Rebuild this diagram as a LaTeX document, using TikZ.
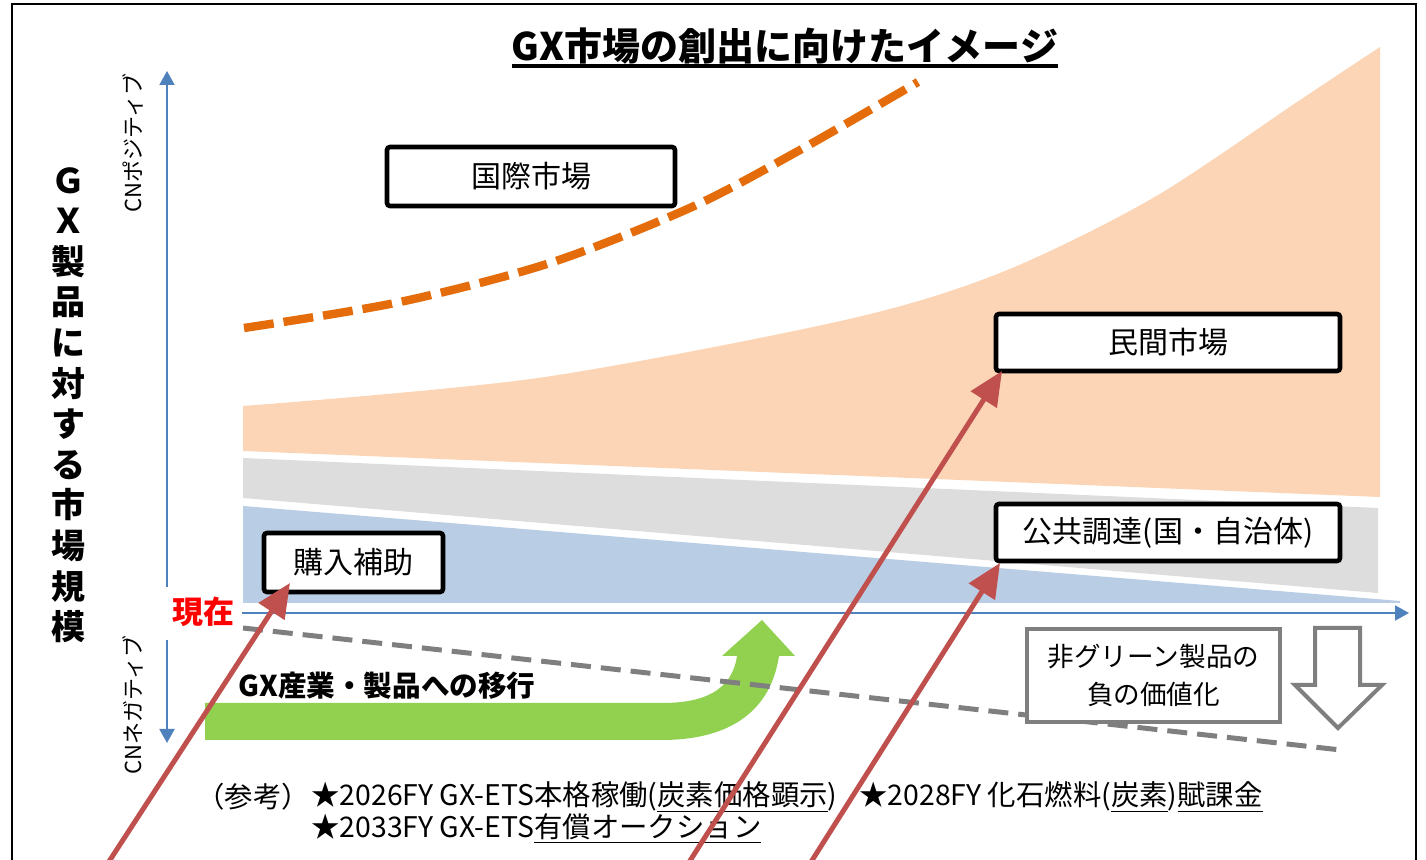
\documentclass[tikz,border=0pt]{standalone}
\usepackage{fontspec}
\setmainfont{Noto Sans CJK JP}
\usetikzlibrary{arrows.meta,calc}
\definecolor{axisblue}{HTML}{4F81BD}
\definecolor{bandblue}{HTML}{B9CDE5}
\definecolor{bandgray}{HTML}{DDDDDD}
\definecolor{bandorange}{HTML}{FBD5B5}
\definecolor{dashorange}{HTML}{E46C0A}
\definecolor{arrowred}{HTML}{C0504D}
\definecolor{greenarrow}{HTML}{92D050}
\definecolor{midgray}{HTML}{7F7F7F}
\tikzset{
  mbox/.style={draw=black, line width=2.3pt, fill=white, rounded corners=1.5pt, inner sep=0pt, font=\fontsize{15}{18}\selectfont},
  graybox/.style={draw=midgray, line width=2pt, fill=white, inner sep=0pt, align=center, font=\fontsize{13.3}{19}\selectfont},
  axisline/.style={draw=axisblue, line width=1pt, -{Triangle[width=7.5pt,length=7pt]}},
  redarrow/.style={draw=arrowred, line width=2.5pt, -{Triangle[width=15pt,length=17pt]}},
  orangedash/.style={draw=dashorange, line width=4.2pt, dash pattern=on 15pt off 5pt},
  graydash/.style={draw=midgray, line width=2.5pt, dash pattern=on 10pt off 5pt},
  reftext/.style={anchor=west, inner sep=0pt, font=\fontsize{14.2}{17}\selectfont},
}
\begin{document}
\begin{tikzpicture}[x=0.5pt,y=-0.5pt]
\useasboundingbox (0,0) rectangle (1426,860);
\clip (0,0) rectangle (1426,860);
\fill[white] (0,0) rectangle (1426,860);

% frame
\draw[line width=1pt] (12,900) -- (12,4) -- (1416,4) -- (1416,900);

% bands
\fill[bandorange] plot[smooth] coordinates {(243,406) (538,378) (845,320) (1000,273) (1153,198) (1300,100) (1380,47)} -- (1380,497) -- (243,451) -- cycle;
\fill[bandgray] (243,458) -- (1378,508) -- (1378,593) -- (243,498) -- cycle;
\fill[bandblue] (243,506) -- (1400,601) -- (1400,603) -- (243,603) -- cycle;

% orange dashed curve
\draw[orangedash] plot[smooth] coordinates {(244,328) (400,302) (550,263) (692,207) (800,150) (918,82)};

% axes
\coordinate (xs) at (242,613);
\coordinate (xe) at (1409,613);
\coordinate (ys) at (167,587);
\coordinate (ye) at (167,71);
\coordinate (ns) at (167,640);
\coordinate (ne) at (167,743);
\draw[axisline] (xs) -- (xe);
\draw[axisline] (ys) -- (ye);
\draw[axisline] (ns) -- (ne);

% green transition arrow
\fill[greenarrow] (205,703) -- (662,703) .. controls (705,703) and (732,690) .. (737,656)
  -- (722,656) -- (762,620) -- (795,656) -- (779,656)
  .. controls (770,715) and (725,740) .. (662,740) -- (205,740) -- cycle;
\node[inner sep=0pt, font=\fontsize{14.3}{16}\selectfont\bfseries] (gxlabel) at (387,686) {GX産業・製品への移行};

% gray dashed line
\coordinate (gds) at (243,628);
\coordinate (gde) at (1341,750);
\draw[graydash] (gds) -- (gde);

% title
\node[inner sep=0pt, font=\fontsize{19}{22}\selectfont\bfseries] (title) at (785,46) {GX市場の創出に向けたイメージ};
\coordinate (ul) at (0,66);
\draw[line width=2pt] (title.west |- ul) -- (title.east |- ul);

% vertical label
\node[inner sep=0pt, align=center, font=\fontsize{17}{20.3}\selectfont\bfseries] (vlabel) at (68,405)
  {Ｇ\\Ｘ\\製\\品\\に\\対\\す\\る\\市\\場\\規\\模};

% CN labels
\node[rotate=90, inner sep=0pt, font=\fontsize{11}{13}\selectfont] (cnpos) at (133,143) {CNポジティブ};
\node[rotate=90, inner sep=0pt, font=\fontsize{11}{13}\selectfont] (cnneg) at (133,705) {CNネガティブ};

% now label
\node[inner sep=0pt, text=red, font=\fontsize{15.5}{17}\selectfont\bfseries] (now) at (203,612) {現在};

% market boxes
\node[mbox, minimum width=144pt, minimum height=29.5pt] (kokusai) at (531,176.5) {国際市場};
\node[mbox, minimum width=172pt, minimum height=28.5pt] (minkan) at (1168,342.5) {民間市場};
\node[mbox, minimum width=172pt, minimum height=28.5pt] (koukyou) at (1168,532.5) {公共調達(国・自治体)};
\node[mbox, minimum width=89.5pt, minimum height=29.5pt] (kounyu) at (353.5,562.5) {購入補助};

% non-green box
\node[graybox, minimum width=126.5pt, minimum height=46.5pt] (nongreen) at (1153.5,675.5) {非グリーン製品の\\負の価値化};
\draw[draw=midgray, fill=white, line width=2pt, line join=miter]
  (1315,628) -- (1360,628) -- (1360,685) -- (1382,685) -- (1338,728) -- (1295,685) -- (1315,685) -- cycle;

% reference text
\node[reftext] (ref0) at (196,797) {（参考）};
\node[reftext] (ref1) at (311,797) {★2026FY GX-ETS本格稼働(\underline{炭素価格顕示})};
\node[reftext] (ref2) at (859,797) {★2028FY 化石燃料(\underline{炭素})\underline{賦課金}};
\node[reftext] (ref3) at (311,829) {★2033FY GX-ETS\underline{有償オークション}};

% red arrows
\coordinate (r1s) at (84,900);
\coordinate (r1e) at (290,583);
\coordinate (r2s) at (665,900);
\coordinate (r2e) at (1002,371);
\coordinate (r3s) at (787,900);
\coordinate (r3e) at (1000,563);
\draw[redarrow] (r1s) -- (r1e);
\draw[redarrow] (r2s) -- (r2e);
\draw[redarrow] (r3s) -- (r3e);
\end{tikzpicture}
\end{document}
